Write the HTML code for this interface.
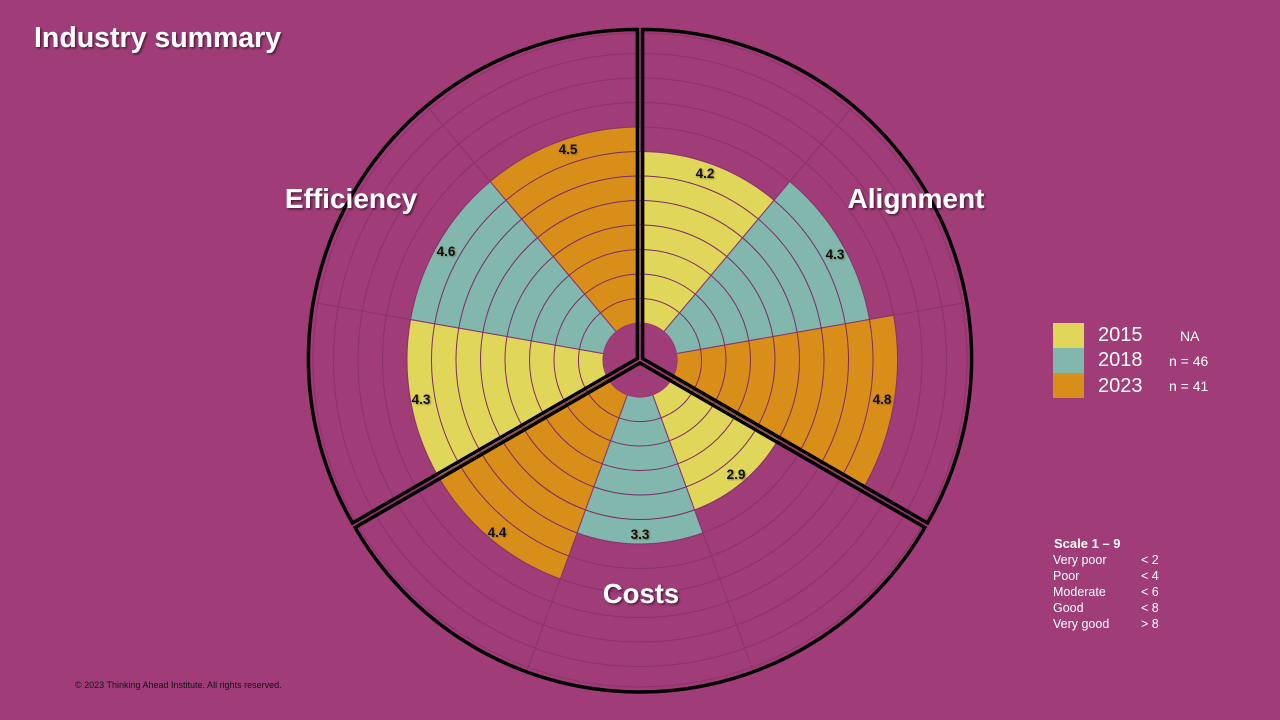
<!DOCTYPE html>
<html><head><meta charset="utf-8">
<style>
html,body{margin:0;padding:0;background:#a03c78;}
body{width:1280px;height:720px;position:relative;overflow:hidden;font-family:"Liberation Sans",Arial,sans-serif;}
.t{position:absolute;white-space:nowrap;}
</style></head>
<body>
<svg id="s" width="1280" height="720" style="position:absolute;left:0;top:0">
<defs>
<filter id="sh" x="-20%" y="-20%" width="140%" height="140%"><feDropShadow dx="1.5" dy="1.5" stdDeviation="1" flood-color="#000" flood-opacity="0.55"/></filter>
<filter id="sh2" x="-20%" y="-20%" width="140%" height="140%"><feDropShadow dx="1" dy="1" stdDeviation="0.8" flood-color="#6b5a2a" flood-opacity="0.7"/></filter>
</defs>
<g id="g"></g>
<g font-family="Liberation Sans, Arial, sans-serif" font-weight="bold" fill="#fff" font-size="28" text-anchor="middle" filter="url(#sh)">
<text x="351" y="208">Efficiency</text>
<text x="916" y="208">Alignment</text>
<text x="641" y="603" font-size="27.5">Costs</text>
<text x="34" y="47" text-anchor="start" font-size="28.5">Industry summary</text>
</g>
<g font-family="Liberation Sans, Arial, sans-serif" font-weight="bold" fill="#111" font-size="13.5" text-anchor="middle" filter="url(#sh2)">
<text x="568" y="154">4.5</text>
<text x="705" y="178">4.2</text>
<text x="835" y="259">4.3</text>
<text x="882" y="404">4.8</text>
<text x="736" y="479">2.9</text>
<text x="640" y="539">3.3</text>
<text x="497" y="537">4.4</text>
<text x="421" y="404">4.3</text>
<text x="446" y="256">4.6</text>
</g>
</svg>
<div style="position:absolute;left:1053px;top:323px;width:31px;height:25px;background:#dfd65a"></div>
<div style="position:absolute;left:1053px;top:348px;width:31px;height:25px;background:#82b7ae"></div>
<div style="position:absolute;left:1053px;top:373px;width:31px;height:25px;background:#d98e1a"></div>
<div class="t" style="left:1098px;top:324px;font-size:20px;color:#fff">2015</div>
<div class="t" style="left:1098px;top:349px;font-size:20px;color:#fff">2018</div>
<div class="t" style="left:1098px;top:375px;font-size:20px;color:#fff">2023</div>
<div class="t" style="left:1180px;top:328px;font-size:14px;color:#fff">NA</div>
<div class="t" style="left:1169px;top:353px;font-size:14px;color:#fff">n = 46</div>
<div class="t" style="left:1169px;top:378px;font-size:14px;color:#fff">n = 41</div>
<div class="t" style="left:1054px;top:536px;font-size:13px;color:#fff;font-weight:bold">Scale 1 – 9</div>
<div class="t" style="left:1053px;top:552px;font-size:12.5px;color:#fff;line-height:16px">Very poor<br>Poor<br>Moderate<br>Good<br>Very good</div>
<div class="t" style="left:1141px;top:552px;font-size:12.5px;color:#fff;line-height:16px">&lt; 2<br>&lt; 4<br>&lt; 6<br>&lt; 8<br>&gt; 8</div>
<div class="t" style="left:75px;top:680px;font-size:9px;color:#111">© 2023 Thinking Ahead Institute. All rights reserved.</div>
<script>
var cx=640,cy=360,r0=37,st=24.5,R=329;
var g=document.getElementById('g'),ns='http://www.w3.org/2000/svg';
function el(t,a){var e=document.createElementNS(ns,t);for(var k in a)e.setAttribute(k,a[k]);g.appendChild(e);return e;}
function P(r,a,ox,oy){a=a*Math.PI/180;return [(cx+(ox||0)+r*Math.sin(a)).toFixed(2),(cy+(oy||0)-r*Math.cos(a)).toFixed(2)];}
function arc(r,a1,a2){var p=P(r,a1),q=P(r,a2);return 'M'+p+' A'+r+' '+r+' 0 0 1 '+q;}
for(var k=1;k<=12;k++)el('circle',{cx:cx,cy:cy,r:Math.min(r0+st*k,R-2),fill:'none',stroke:'#8a336c','stroke-width':1});
for(var a=0;a<360;a+=40)el('path',{d:'M'+P(r0,a)+' L'+P(R,a),stroke:'#8a336c','stroke-width':1});
var cols=['#dfd65a','#82b7ae','#d98e1a'];
var n=[7,8,9,5,6,8,8,8,8];
for(var i=0;i<9;i++){var a1=i*40,a2=a1+40,r=r0+st*n[i];
 el('path',{d:'M'+P(r0,a1)+' L'+P(r,a1)+' A'+r+' '+r+' 0 0 1 '+P(r,a2)+' L'+P(r0,a2)+' A'+r0+' '+r0+' 0 0 0 '+P(r0,a1)+'Z',fill:cols[i%3],stroke:'#8a336c','stroke-width':1});
 for(var k=1;k<n[i];k++)el('path',{d:arc(r0+st*k,a1,a2),fill:'none',stroke:'#7d2a66','stroke-width':1});
}
el('circle',{cx:cx,cy:cy,r:r0,fill:'#a03c78'});
for(var s=0;s<3;s++){var b=s*120,m=(b+60)*Math.PI/180,d=3,ox=d*Math.sin(m),oy=-d*Math.cos(m);
 var c=P(0,0,ox,oy),p1=P(R,b,ox,oy),p2=P(R,b+120,ox,oy);
 el('path',{d:'M'+c+' L'+p1+' A'+R+' '+R+' 0 0 1 '+p2+' Z',fill:'none',stroke:'#000','stroke-width':3.5,'stroke-linejoin':'miter'});
}
</script>
</body></html>
